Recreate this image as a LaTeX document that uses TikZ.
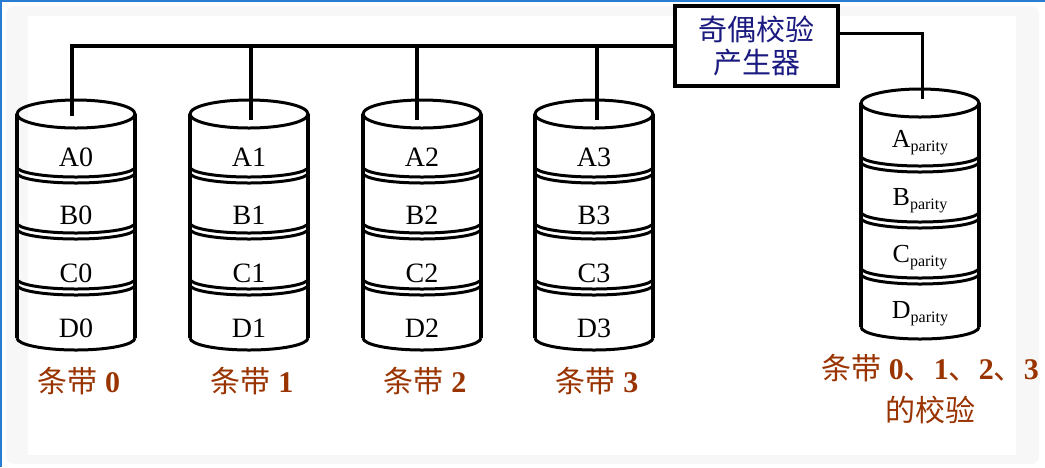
\documentclass[tikz,border=0pt]{standalone}
\usepackage{fontspec}
\setmainfont{Liberation Serif}
\newfontfamily\cjk{Noto Sans CJK SC}
\usetikzlibrary{positioning}
\definecolor{stripebrown}{RGB}{153,51,0}
\definecolor{boxnavy}{RGB}{26,26,128}
\definecolor{pagegrey}{RGB}{247,247,247}
\definecolor{frameblue}{RGB}{40,125,210}

\begin{document}
\begin{tikzpicture}[x=1pt, y=-1pt,
diskline/.style={line width=3pt},
diskside/.style={line width=4pt},
bandlabel/.style={anchor=base, font=\fontsize{28}{28}\selectfont},
paritylabel/.style={anchor=base, font=\fontsize{26}{26}\selectfont},
stripelabel/.style={text=stripebrown, font=\fontsize{30}{42}\selectfont, align=center},
busline/.style={line width=4pt},
genbox/.style={draw, fill=white, line width=4pt, minimum width=163pt, minimum height=80pt, text=boxnavy, font=\cjk\fontsize{29}{33}\selectfont, align=center}
]
    \useasboundingbox (0,0) rectangle (1045,467);
    %Background
    \fill[pagegrey, rounded corners=8pt] (6,6) rectangle (1039,464);
    \fill[white] (28,16) rectangle (1016,455);
    \draw[frameblue, line width=2pt] (0,1) -- (1045,1) (1,0) -- (1,467);

    %Disks
    \foreach \cx/\ty in {76/114, 249/114, 422/114, 594/114, 920/103} {
        \draw[diskline] (\cx,\ty) ellipse [x radius=59, y radius=14];
        \draw[diskside] (\cx-59,\ty) -- (\cx-59,\ty+224) (\cx+59,\ty) -- (\cx+59,\ty+224);
        \draw[diskline] (\cx-59,\ty+224) arc [start angle=180, end angle=0, x radius=59, y radius=12];
        \foreach \k in {1,2,3}
            \draw[diskline] (\cx-59,\ty+56*\k-3) arc [start angle=180, end angle=0, x radius=59, y radius=10]
                (\cx-59,\ty+56*\k+3) arc [start angle=180, end angle=0, x radius=59, y radius=10];
    }

    %Nodes
    \foreach \i/\cx in {0/76, 1/249, 2/422, 3/594} {
        \node[bandlabel] (a\i) at (\cx,166) {A\i};
        \node[bandlabel] (b\i) at (\cx,224) {B\i};
        \node[bandlabel] (c\i) at (\cx,282) {C\i};
        \node[bandlabel] (d\i) at (\cx,337) {D\i};
        \node[stripelabel, anchor=base] (s\i) at (\cx+3,392) {{\cjk 条带} \textbf{\i}};
    }
    \node[paritylabel] (ap) at (920,147) {A\raisebox{-4pt}{\fontsize{16}{16}\selectfont parity}};
    \node[paritylabel] (bp) at (920,205) {B\raisebox{-4pt}{\fontsize{16}{16}\selectfont parity}};
    \node[paritylabel] (cp) at (920,262) {C\raisebox{-4pt}{\fontsize{16}{16}\selectfont parity}};
    \node[paritylabel] (dp) at (920,318) {D\raisebox{-4pt}{\fontsize{16}{16}\selectfont parity}};
    \node[stripelabel] (sp) at (930,389)
        {{\cjk 条带} \textbf{0}{\cjk 、}\textbf{1}{\cjk 、}\textbf{2}{\cjk 、}\textbf{3}\\{\cjk 的校验}};
    \node[genbox] (gen) at (756.5,46) {奇偶校验\\产生器};

    \coordinate (t0) at (72,116);
    \coordinate (t1) at (251,120);
    \coordinate (t2) at (417,120);
    \coordinate (t3) at (597,120);
    \coordinate (tp) at (922,99);

    %Lines
    \draw[busline] (gen.west) -| (t0);
    \draw[busline] (t1) -- (t1 |- gen.west);
    \draw[busline] (t2) -- (t2 |- gen.west);
    \draw[busline] (t3) -- (t3 |- gen.west);
    \draw[busline, line width=3pt] ([yshift=13pt]gen.east) -| (tp);
\end{tikzpicture}
\end{document}
